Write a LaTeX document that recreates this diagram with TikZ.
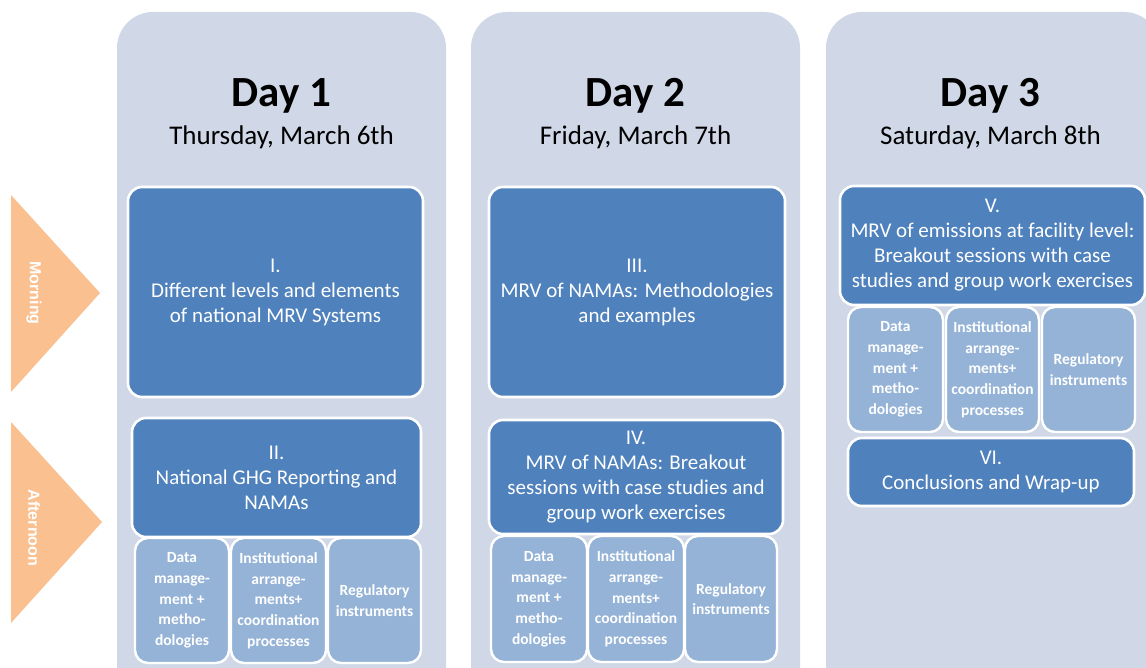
\documentclass[tikz,border=0pt]{standalone}
\usepackage{fontspec}
\setmainfont{Carlito}
\newfontfamily\arialfont{Liberation Sans}
\definecolor{panelc}{RGB}{208,216,232}
\definecolor{darkc}{RGB}{79,129,189}
\definecolor{lightc}{RGB}{149,179,215}
\definecolor{orangec}{RGB}{250,192,144}
\begin{document}
\begin{tikzpicture}[x=1pt,y=-1pt,
  panel/.style={fill=panelc, rounded corners=36pt},
  bigbox/.style={draw=white, line width=2.6pt, fill=darkc, rounded corners=14pt, text=white,
     align=center, inner sep=0pt, font=\fontsize{21}{25}\selectfont},
  smallbox/.style={draw=white, line width=2.4pt, fill=lightc, rounded corners=13pt, text=white,
     align=center, inner sep=0pt, font=\fontsize{15.5}{20.7}\selectfont\bfseries},
  daytitle/.style={font=\fontsize{43}{48}\selectfont\bfseries, inner sep=0pt},
  daydate/.style={font=\fontsize{27}{30}\selectfont, inner sep=0pt},
  tri/.style={fill=orangec},
  trilabel/.style={text=white, rotate=-90, inner sep=0pt, font=\arialfont\fontsize{16}{18}\selectfont\bfseries}
]
\useasboundingbox (0,0) rectangle (1146,668);
\clip (0,0) rectangle (1146,668);
\fill[white] (0,0) rectangle (1146,668);

% panels
\fill[panel] (117,12) rectangle (446,720);
\fill[panel] (471,12) rectangle (800,720);
\fill[panel] (826,12) rectangle (1160,720);

% time-of-day arrows
\fill[tri] (11,195) -- (100,293) -- (11,392) -- cycle;
\fill[tri] (11,422) -- (102,522) -- (11,623) -- cycle;
\node[trilabel] (morning) at (34,293) {Morning};
\node[trilabel] (afternoon) at (34,528) {Afternoon};

% headers
\node[daytitle] (d1) at (281.5,96) {Day 1};
\node[daydate] (d1d) at (281.5,137) {Thursday, March 6th};
\node[daytitle] (d2) at (635.5,96) {Day 2};
\node[daydate] (d2d) at (635.5,137) {Friday, March 7th};
\node[daytitle] (d3) at (990.5,96) {Day 3};
\node[daydate] (d3d) at (990.5,137) {Saturday, March 8th};

% Day 1
\node[bigbox, minimum width=295pt, minimum height=210pt] (s1) at (275.5,292)
  {I.\\Different levels and elements\\of national MRV Systems};
\node[bigbox, minimum width=289pt, minimum height=119pt] (s2) at (276.5,477.5)
  {II.\\National GHG Reporting and\\NAMAs};
\node[smallbox, minimum width=94pt, minimum height=125pt] (s2a) at (182,600.5)
  {Data\\manage-\\ment +\\metho-\\dologies};
\node[smallbox, minimum width=95pt, minimum height=125pt] (s2b) at (278.5,600.5)
  {Institutional\\arrange-\\ments+\\coordination\\processes};
\node[smallbox, minimum width=93pt, minimum height=125pt] (s2c) at (374.5,600.5)
  {Regulatory\\instruments};

% Day 2
\node[bigbox, minimum width=296pt, minimum height=210pt] (s3) at (637,292)
  {III.\\MRV of NAMAs: Methodologies\\and examples};
\node[bigbox, minimum width=294pt, minimum height=114pt] (s4) at (636,477)
  {IV.\\MRV of NAMAs: Breakout\\sessions with case studies and\\group work exercises};
\node[smallbox, minimum width=96pt, minimum height=126pt] (s4a) at (539,599)
  {Data\\manage-\\ment +\\metho-\\dologies};
\node[smallbox, minimum width=96pt, minimum height=126pt] (s4b) at (636,599)
  {Institutional\\arrange-\\ments+\\coordination\\processes};
\node[smallbox, minimum width=92pt, minimum height=126pt] (s4c) at (731,599)
  {Regulatory\\instruments};

% Day 3
\node[bigbox, minimum width=305pt, minimum height=119pt] (s5) at (992.5,245.5)
  {V.\\MRV of emissions at facility level:\\Breakout sessions with case\\studies and group work exercises};
\node[smallbox, minimum width=95pt, minimum height=125pt] (s5a) at (895.5,369.5)
  {Data\\manage-\\ment +\\metho-\\dologies};
\node[smallbox, minimum width=93pt, minimum height=125pt] (s5b) at (992.5,369.5)
  {Institutional\\arrange-\\ments+\\coordination\\processes};
\node[smallbox, minimum width=93pt, minimum height=125pt] (s5c) at (1088.5,369.5)
  {Regulatory\\instruments};
\node[bigbox, minimum width=286pt, minimum height=68pt] (s6) at (991,472)
  {VI.\\Conclusions and Wrap-up};
\end{tikzpicture}
\end{document}
